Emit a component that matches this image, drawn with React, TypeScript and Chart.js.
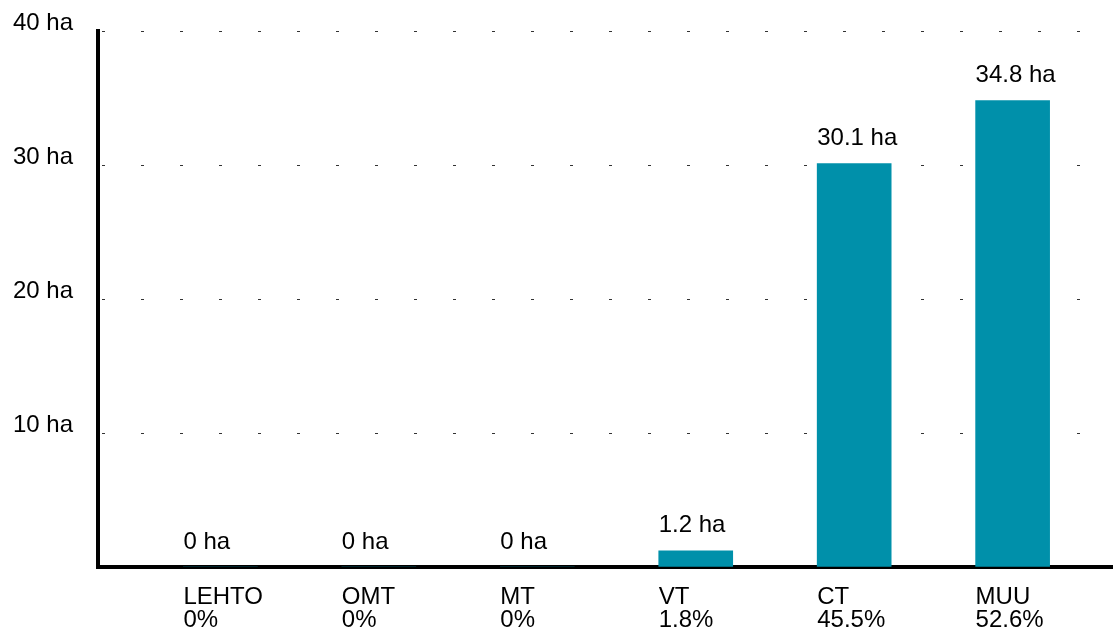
import React, { useEffect, useRef } from "react";
import { Chart, registerables } from "chart.js";

Chart.register(...registerables);

// ---- data ----
const categories = ["LEHTO", "OMT", "MT", "VT", "CT", "MUU"];
const areaHa = [0, 0, 0, 1.2, 30.1, 34.8];
const sharePct = [0, 0, 0, 1.8, 45.5, 52.6];
const yTickValues = [10, 20, 30, 40];
const yTickLabels = ["10 ha", "20 ha", "30 ha", "40 ha"];
const unit = "ha";

const FONT = "'Liberation Sans', Arial, sans-serif";
const BAR_COLOR = "#0090AA";

const labelPlugin = {
  id: "barLabels",
  afterDraw(chart: any) {
    const ctx = chart.ctx;
    const meta = chart.getDatasetMeta(0);
    ctx.save();
    ctx.font = `24px ${FONT}`;
    ctx.fillStyle = "#000";
    ctx.textAlign = "left";
    ctx.textBaseline = "alphabetic";
    meta.data.forEach((el: any, i: number) => {
      const left = el.x - el.width / 2;
      ctx.fillText(`${areaHa[i]} ${unit}`, left, el.y - 18.5);
      ctx.fillText(categories[i], left, 604);
      ctx.fillText(`${sharePct[i]}%`, left, 627);
    });
    ctx.restore();
  },
};

export default function App() {
  const ref = useRef<HTMLCanvasElement>(null);
  useEffect(() => {
    if (!ref.current) return;
    const chart = new Chart(ref.current, {
      type: "bar",
      data: {
        labels: categories,
        datasets: [
          {
            data: areaHa.map((v, i) => ({ x: i, y: v })) as any,
            backgroundColor: BAR_COLOR,
            borderWidth: 0,
            barThickness: 74,
          },
        ],
      },
      options: {
        responsive: false,
        animation: false,
        layout: { padding: { top: 31, left: 0, right: 0, bottom: 0 } },
        plugins: {
          legend: { display: false },
          tooltip: { enabled: false },
        },
        scales: {
          x: {
            type: "linear",
            min: -0.7725,
            max: 5.6335,
            offset: false,
            z: 1,
            grid: { display: false, drawTicks: false },
            ticks: { display: false },
            border: { display: true, width: 4, color: "#000" },
            afterFit: (s: any) => {
              s.height = 63;
              s.paddingLeft = 0;
              s.paddingRight = 0;
            },
          } as any,
          y: {
            min: 0,
            max: 40,
            z: 1,
            ticks: {
              stepSize: 10,
              padding: 25,
              labelOffset: -8,
              color: "#000",
              font: { family: FONT, size: 24 },
              callback: (v: any) => {
                const idx = yTickValues.indexOf(Number(v));
                return idx >= 0 ? yTickLabels[idx] : "";
              },
            },
            grid: { color: "#333", lineWidth: 1, drawTicks: false },
            border: { display: true, width: 4, color: "#000", dash: [3, 36], dashOffset: -2 },
            afterFit: (s: any) => {
              s.width = 98;
              s.paddingTop = 0;
              s.paddingBottom = 0;
            },
          } as any,
        },
      },
      plugins: [labelPlugin],
    });
    return () => chart.destroy();
  }, []);
  return (
    <div style={{ position: "absolute", left: 0, top: 0, width: 1113, height: 630, background: "#fff" }}>
      <canvas ref={ref} width={1113} height={630} style={{ display: "block" }} />
    </div>
  );
}
